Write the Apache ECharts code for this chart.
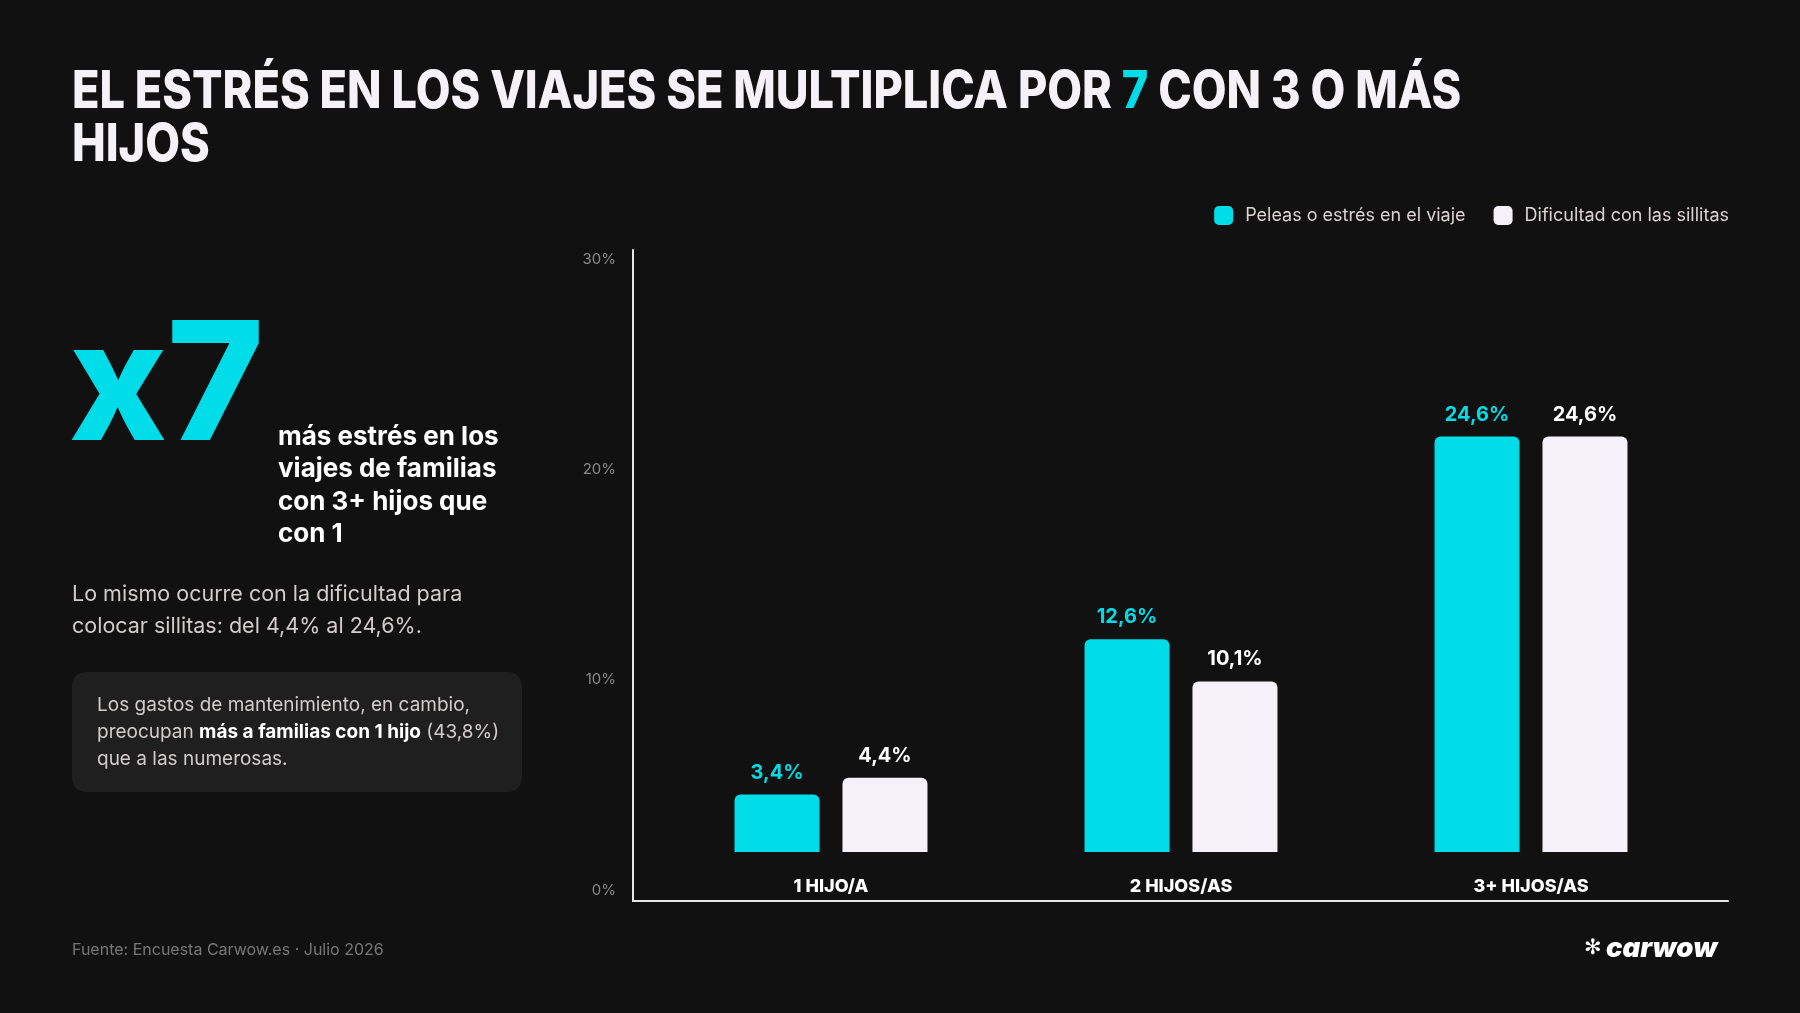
<!DOCTYPE html>
<html>
<head>
<meta charset="utf-8">
<script src="https://cdn.jsdelivr.net/npm/echarts@6/dist/echarts.min.js"></script>
<style>
html,body{margin:0;padding:0;background:#111111;}
#c{width:1800px;height:1013px;}
</style>
</head>
<body>
<div id="c"></div>
<script>
const categories = ['1 HIJO/A', '2 HIJOS/AS', '3+ HIJOS/AS'];
const seriesNames = ['Peleas o estrés en el viaje', 'Dificultad con las sillitas'];
const peleas = [3.4, 12.6, 24.6];
const sillitas = [4.4, 10.1, 24.6];
const yTickMax = 30;
const yTickStep = 10;

const CYAN = '#00DDE8';
const WHITE = '#F5F1F8';
const FONT = 'Inter, "Open Sans", sans-serif';

const fmtPct = v => v.toFixed(1).replace('.', ',') + '%';

const chart = echarts.init(document.getElementById('c'), null, {renderer: 'canvas'});

const option = {
  backgroundColor: '#111111',
  textStyle: {fontFamily: FONT},
  legend: {
    right: 66, top: 201,
    itemWidth: 19, itemHeight: 19, itemGap: 28,
    icon: 'roundRect',
    data: seriesNames,
    textStyle: {color: '#DCD4D4', fontSize: 18, fontFamily: FONT, padding: [0, 0, 0, 7]}
  },
  grid: [
    {left: 633, right: 72, top: 259, bottom: 123},
    {left: 633, right: 72, top: 250, bottom: 112},
    {left: 656, right: 94, top: 244, bottom: 161}
  ],
  xAxis: [
    {gridIndex: 0, type: 'value', show: false},
    {gridIndex: 1, type: 'value', min: 0, max: 1, axisLine: {show: true, onZero: false, lineStyle: {color: '#E6E6E6', width: 2}},
      axisTick: {show: false}, axisLabel: {show: false}, splitLine: {show: false}},
    {gridIndex: 2, type: 'category', data: categories,
      axisLine: {show: false}, axisTick: {show: false}, splitLine: {show: false},
      axisLabel: {color: '#FFFFFF', fontSize: 18, fontWeight: 800, fontFamily: FONT, margin: 26}}
  ],
  yAxis: [
    {gridIndex: 0, type: 'value', min: 0, max: yTickMax, interval: yTickStep,
      axisLine: {show: false}, axisTick: {show: false}, splitLine: {show: false},
      axisLabel: {color: '#8A8A8A', fontSize: 15, margin: 17, formatter: '{value}%'}},
    {gridIndex: 1, type: 'value', min: 0, max: 1, axisLine: {show: true, onZero: false, lineStyle: {color: '#E6E6E6', width: 2}},
      axisTick: {show: false}, axisLabel: {show: false}, splitLine: {show: false}},
    {gridIndex: 2, type: 'value', min: 0, max: 36, show: false, splitLine: {show: false}}
  ],
  series: [
    {
      name: seriesNames[0], type: 'bar', xAxisIndex: 2, yAxisIndex: 2,
      data: peleas, barWidth: 85, barGap: '27%',
      itemStyle: {color: CYAN, borderRadius: [6, 6, 0, 0]},
      label: {show: true, position: 'top', distance: 12, color: CYAN, fontSize: 20, fontWeight: 'bold', fontFamily: FONT,
        formatter: p => fmtPct(p.value)}
    },
    {
      name: seriesNames[1], type: 'bar', xAxisIndex: 2, yAxisIndex: 2,
      data: sillitas, barWidth: 85, barGap: '27%',
      itemStyle: {color: WHITE, borderRadius: [6, 6, 0, 0]},
      label: {show: true, position: 'top', distance: 12, color: '#FFFFFF', fontSize: 20, fontWeight: 'bold', fontFamily: FONT,
        formatter: p => fmtPct(p.value)}
    }
  ],
  graphic: [
    {type: 'text', x: 72, y: 66, scaleX: 0.867, style: {
      text: 'EL ESTRÉS EN LOS VIAJES SE MULTIPLICA POR {c|7} CON 3 O MÁS\nHIJOS',
      fill: '#F4F1F7', font: '800 52px ' + FONT, lineHeight: 53, verticalAlign: 'top', align: 'left',
      rich: {c: {fill: CYAN, font: '800 52px ' + FONT, lineHeight: 53}}
    }},
    {type: 'text', left: 69, top: 308, style: {
      text: 'x7', fill: CYAN, font: '800 165px ' + FONT, lineHeight: 165
    }},
    {type: 'text', left: 278, top: 420.5, style: {
      text: 'más estrés en los\nviajes de familias\ncon 3+ hijos que\ncon 1',
      fill: '#FFFFFF', font: 'bold 26px ' + FONT, lineHeight: 32.5
    }},
    {type: 'text', left: 72, top: 578.5, style: {
      text: 'Lo mismo ocurre con la dificultad para\ncolocar sillitas: del 4,4% al 24,6%.',
      fill: '#D2CCCC', font: '21.5px ' + FONT, lineHeight: 32
    }},
    {type: 'rect', shape: {x: 72, y: 672, width: 450, height: 120, r: 14}, style: {fill: '#1F1F1F'}},
    {type: 'text', left: 97, top: 692, style: {
      text: 'Los gastos de mantenimiento, en cambio,\npreocupan {b|más a familias con 1 hijo} (43,8%)\nque a las numerosas.',
      fill: '#D2CCCC', font: '19px ' + FONT, lineHeight: 27,
      rich: {b: {fill: '#FFFFFF', font: 'bold 19px ' + FONT, lineHeight: 27}}
    }},
    {type: 'text', left: 72, top: 942, style: {
      text: 'Fuente: Encuesta Carwow.es · Julio 2026',
      fill: '#777777', font: '16px ' + FONT
    }},
    {type: 'text', left: 1584, top: 938, style: {
      text: '✻', fill: '#FFFFFF', font: 'bold 21px "DejaVu Sans"'
    }},
    {type: 'text', left: 1606, top: 935, style: {
      text: 'carwow', fill: '#FFFFFF', font: 'italic 900 27.5px ' + FONT
    }}
  ]
};
chart.setOption(option);
</script>
</body>
</html>
